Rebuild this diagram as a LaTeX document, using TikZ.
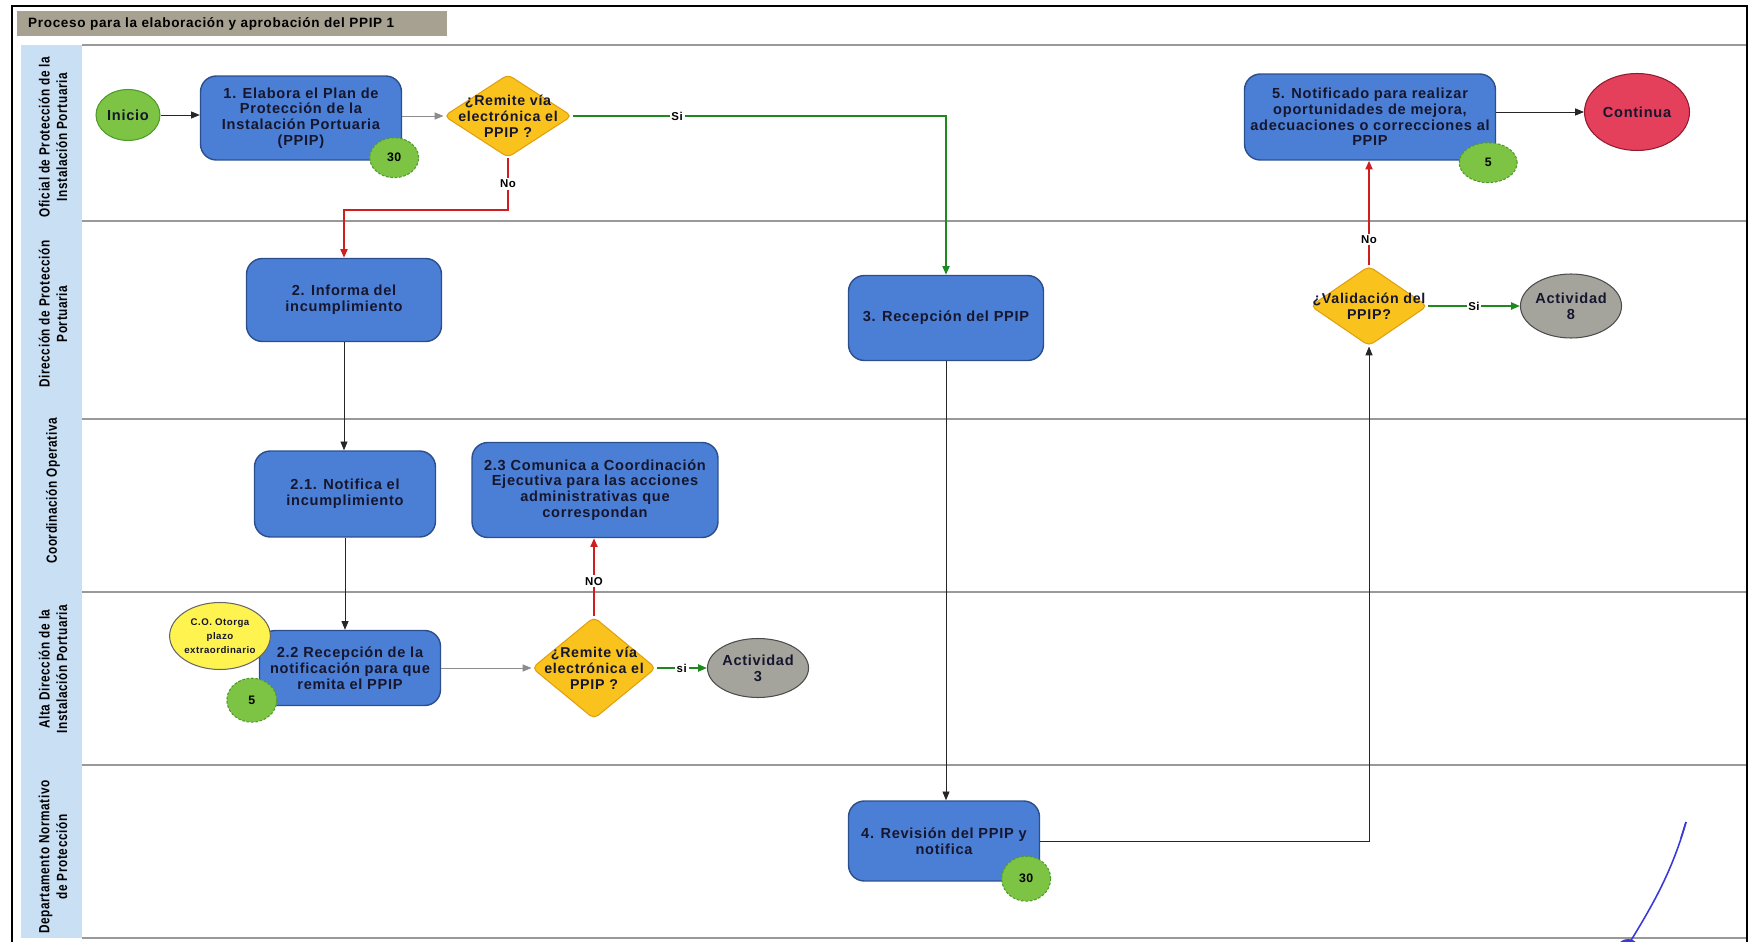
\documentclass[tikz,border=0pt]{standalone}
\usepackage{fontspec}
\setmainfont[LetterSpace=5]{Liberation Sans}
\usepackage{xcolor}
\usetikzlibrary{shapes,arrows,positioning,calc,arrows.meta}

\definecolor{boxblue}{HTML}{4B7FD5}
\definecolor{boxedge}{HTML}{2B4E8C}
\definecolor{txtdark}{HTML}{16162E}
\definecolor{diafill}{HTML}{F9C21C}
\definecolor{diaedge}{HTML}{E0A010}
\definecolor{badgefill}{HTML}{7DC444}
\definecolor{badgeedge}{HTML}{4F9A2C}
\definecolor{endred}{HTML}{E4405C}
\definecolor{endedge}{HTML}{8E1C2E}
\definecolor{actgray}{HTML}{A5A49C}
\definecolor{coyellow}{HTML}{FFF350}
\definecolor{yesgreen}{HTML}{1E8A1E}
\definecolor{nored}{HTML}{D01E1E}
\definecolor{lanefill}{HTML}{C9DFF4}
\definecolor{titlefill}{HTML}{A7A191}
\definecolor{sigblue}{HTML}{3A3ADB}

\begin{document}
\begin{tikzpicture}[x=0.02cm, y=-0.02cm,
    proc/.style={draw=boxedge, fill=boxblue, line width=0.8pt, rounded corners=9pt, align=center, text=txtdark, inner sep=2pt, font=\fontsize{8.3}{9}\selectfont\bfseries},
    decision/.style={diamond, draw=diaedge, fill=diafill, line width=0.6pt, rounded corners=3pt, inner sep=0pt},
    dtext/.style={align=center, text=txtdark, font=\fontsize{8.1}{9}\selectfont\bfseries},
    badge/.style={ellipse, draw=badgeedge, fill=badgefill, dash pattern=on 1.5pt off 1pt, line width=0.6pt, inner sep=0pt, minimum width=0.98cm, minimum height=0.8cm, font=\fontsize{7}{8}\selectfont\bfseries},
    term/.style={ellipse, inner sep=0pt, line width=0.6pt, align=center, text=txtdark, font=\fontsize{8.3}{9}\selectfont\bfseries},
    lane/.style={rotate=90, xscale=0.8, align=center, font=\fontsize{8.4}{10}\selectfont\bfseries},
    flow/.style={-{Triangle[length=5pt,width=4pt]}, line width=0.5pt, draw=black!85},
    soft/.style={flow, draw=black!45},
    siline/.style={flow, draw=yesgreen, line width=1.1pt},
    noline/.style={flow, draw=nored, line width=1.1pt},
    lbl/.style={fill=white, inner sep=1pt, text=black, font=\fontsize{6.5}{7}\selectfont\bfseries}]
    \useasboundingbox (0,0) rectangle (1751,942);

    % Frame and title
    \draw[line width=1.4pt] (12,942) -- (12,6) -- (1747,6) -- (1747,942);
    \fill[titlefill] (17,11) rectangle (447,36);
    \node[anchor=west, font=\fontsize{7.7}{9}\selectfont\bfseries] (title) at (22,23.5) {Proceso para la elaboración y aprobación del PPIP 1};

    % Lanes
    \fill[lanefill] (21,45) rectangle (82,938);
    \foreach \y in {45,221,419,592,765,938}
        \draw[black!40, line width=0.6pt] (82,\y) -- (1746,\y);
    \node[lane] (oficial) at (53,137) {Oficial de Protección de la\\Instalación Portuaria};
    \node[lane] (direccion) at (53,314) {Dirección de Protección\\Portuaria};
    \node[lane] (coordinacion) at (53,491) {Coordinación Operativa};
    \node[lane] (alta) at (53,669) {Alta Dirección de la\\Instalación Portuaria};
    \node[lane] (depto) at (53,857) {Departamento Normativo\\de Protección};

    % Oficial de Proteccion
    \node[term, fill=badgefill, draw=badgeedge, minimum width=1.28cm, minimum height=1.02cm] (inicio) at (128,115) {Inicio};
    \node[proc, minimum width=4.02cm, minimum height=1.68cm] (elabora) at (301,118) {1. Elabora el Plan de\\Protección de la\\Instalación Portuaria\\(PPIP)};
    \node[badge] (t1) at ([shift={(-8,-3)}]elabora.south east) {30};
    \node[decision, minimum width=2.56cm, minimum height=1.66cm, label={[dtext]center:¿Remite vía\\electrónica el\\PPIP ?}] (remite) at (508,116) {};
    \node[proc, minimum width=5.02cm, minimum height=1.72cm] (notificado) at (1370,117) {5. Notificado para realizar\\oportunidades de mejora,\\adecuaciones o correcciones al\\PPIP};
    \node[badge, minimum width=1.16cm] (t5) at ([shift={(-8,2)}]notificado.south east) {5};
    \node[term, fill=endred, draw=endedge, minimum width=2.1cm, minimum height=1.54cm] (continua) at (1637,112) {Continua};

    % Direccion de Proteccion
    \node[proc, minimum width=3.9cm, minimum height=1.66cm] (informa) at (344,300) {2. Informa del\\incumplimiento};
    \node[proc, minimum width=3.9cm, minimum height=1.7cm] (recibe) at (946,318) {3. Recepción del PPIP};
    \node[decision, minimum width=2.34cm, minimum height=1.6cm, label={[dtext]center:¿Validación del\\PPIP?}] (valida) at (1369,306) {};
    \node[term, fill=actgray, draw=black!70, minimum width=1.94cm, minimum height=1.28cm] (act8) at (1571,306) {Actividad\\8};

    % Coordinacion Operativa
    \node[proc, minimum width=3.62cm, minimum height=1.72cm] (notifica) at (345,494) {2.1. Notifica el\\incumplimiento};
    \node[proc, minimum width=4.92cm, minimum height=1.9cm] (comunica) at (595,490) {2.3 Comunica a Coordinación\\Ejecutiva para las acciones\\administrativas que\\correspondan};

    % Alta Direccion
    \node[proc, minimum width=3.62cm, minimum height=1.5cm] (recepcion) at (350,668) {2.2 Recepción de la\\notificación  para que\\remita el PPIP};
    \node[badge, minimum width=1cm, minimum height=0.88cm] (t22) at ([shift={(-7,-6)}]recepcion.south west) {5};
    \node[term, fill=coyellow, draw=black!60, minimum width=1.82cm, minimum height=1.34cm, font=\fontsize{5.5}{8}\selectfont\bfseries] (otorga) at (220,636) {C.O. Otorga\\plazo\\extraordinario};
    \node[decision, minimum width=2.48cm, minimum height=2.04cm, label={[dtext]center:¿Remite vía\\electrónica el\\PPIP ?}] (remitedos) at (594,668) {};
    \node[term, fill=actgray, draw=black!70, minimum width=1.72cm, minimum height=1.18cm] (act3) at (758,668) {Actividad\\3};

    % Departamento Normativo
    \node[proc, minimum width=3.82cm, minimum height=1.6cm] (revisa) at (944,841) {4. Revisión del PPIP y\\notifica};
    \node[badge, minimum height=0.9cm] (t4) at ([shift={(-14,-3)}]revisa.south east) {30};

    % Connectors
    \draw[flow] (inicio) -- (inicio -| elabora.west);
    \draw[soft] (elabora.east |- remite) -- (remite.west);
    \draw[siline] (remite.east) -| node[lbl, pos=0.14] {Si} (recibe.north);
    \draw[noline] (remite.south) -- node[lbl] {No} ++(0,52) -| (informa.north);
    \draw[flow] (informa.south) -- (informa.south |- notifica.north);
    \draw[flow] (notifica.south) -- (notifica.south |- recepcion.north);
    \draw[soft] (recepcion) -- (remitedos);
    \draw[noline] (remitedos.north) -- node[lbl, pos=0.45] {NO} (remitedos.north |- comunica.south);
    \draw[siline] (remitedos) -- node[lbl] {si} (act3);
    \draw[flow] (recibe.south) -- (recibe.south |- revisa.north);
    \draw[flow] (revisa.east) -| (valida.south);
    \draw[noline] (valida.north) -- node[lbl, pos=0.25] {No} (valida.north |- notificado.south);
    \draw[siline] (valida) -- node[lbl] {Si} (act8);
    \draw[flow] (notificado.east |- continua) -- (continua.west);

    % Firma
    \draw[sigblue, line width=0.9pt] (1686,822) .. controls (1672,872) and (1652,906) .. (1630,942);
    \draw[sigblue, line width=0.9pt] (1686,822) -- (1681,838);
    \fill[sigblue] (1628,947) ellipse (10 and 8);
\end{tikzpicture}
\end{document}
